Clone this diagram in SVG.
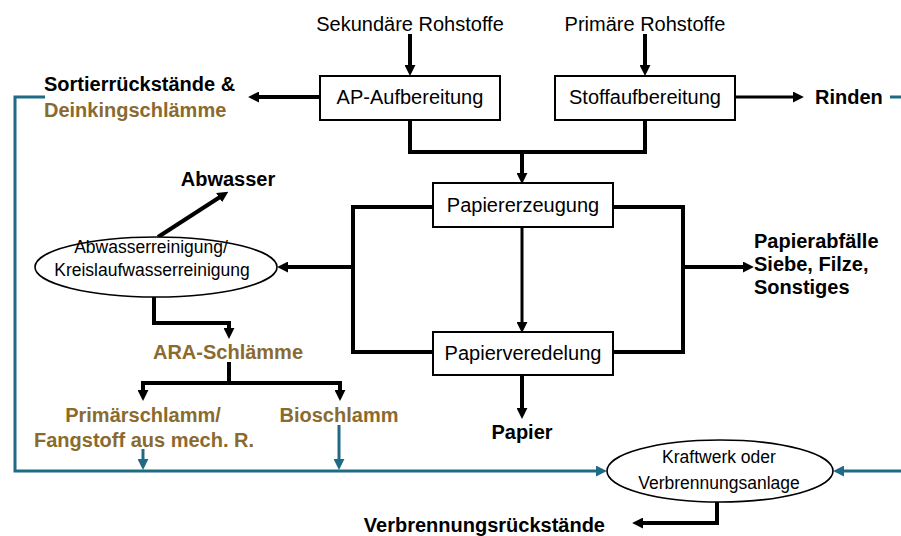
<svg xmlns="http://www.w3.org/2000/svg" width="901" height="536" viewBox="0 0 901 536">
<style>
text{font-family:"Liberation Sans",Arial,sans-serif;font-size:20px;fill:#000}
.b{font-weight:bold}
.br{fill:#8B6A2E}
.s{font-size:17.5px}
.m{text-anchor:middle}
.box{fill:#fff;stroke:#000;stroke-width:2}
.ell{fill:#fff;stroke:#000;stroke-width:1.6}
.k{fill:none;stroke:#000;stroke-width:4}
.k3{fill:none;stroke:#000;stroke-width:3}
.t{fill:none;stroke:#1F6B85;stroke-width:3}
</style>
<defs>
<marker id="ak" viewBox="0 0 10 10" refX="1" refY="5" markerWidth="11" markerHeight="11" markerUnits="userSpaceOnUse" orient="auto"><path d="M0,0 L10,5 L0,10 z" fill="#000"/></marker>
<marker id="at" viewBox="0 0 10 10" refX="1" refY="5" markerWidth="11" markerHeight="11" markerUnits="userSpaceOnUse" orient="auto"><path d="M0,0 L10,5 L0,10 z" fill="#1F6B85"/></marker>
</defs>

<g id="connectors">
<!-- inputs -->
<line class="k" x1="410" y1="34" x2="410" y2="66" marker-end="url(#ak)"/>
<line class="k" x1="645" y1="34" x2="645" y2="66" marker-end="url(#ak)"/>
<!-- AP -> Sortier -->
<line class="k" x1="320" y1="97" x2="258" y2="97" marker-end="url(#ak)"/>
<!-- Stoff -> Rinden -->
<line class="k3" x1="735" y1="97" x2="794" y2="97" marker-end="url(#ak)"/>
<!-- merge to Papiererzeugung -->
<polyline class="k" points="410,120 410,152 645,152 645,120"/>
<line class="k" x1="522" y1="152" x2="522" y2="174" marker-end="url(#ak)"/>
<!-- Papiererzeugung -> Papierveredelung -->
<line class="k3" x1="522" y1="227" x2="522" y2="323" marker-end="url(#ak)"/>
<!-- Papierveredelung -> Papier -->
<line class="k" x1="522" y1="375" x2="522" y2="409" marker-end="url(#ak)"/>
<!-- left bracket -->
<polyline class="k" points="433,207 353,207 353,352 433,352"/>
<line class="k" x1="353" y1="267" x2="287" y2="267" marker-end="url(#ak)"/>
<!-- right bracket -->
<polyline class="k" points="613,207 683,207 683,352 613,352"/>
<line class="k" x1="683" y1="267" x2="744" y2="267" marker-end="url(#ak)"/>
<!-- Abwasser -->
<line class="k" x1="158" y1="237" x2="220" y2="197" marker-end="url(#ak)"/>
<!-- ARA -->
<polyline class="k" points="154,297 154,323 229,323 229,329" marker-end="url(#ak)"/>
<polyline class="k" points="229,362 229,383"/>
<polyline class="k" points="143,391 143,383 340,383 340,391" marker-end="url(#ak)"/>
<line class="k" x1="143" y1="385" x2="143" y2="391" marker-end="url(#ak)"/>
<!-- teal -->
<line class="t" x1="143" y1="449" x2="143" y2="460" marker-end="url(#at)"/>
<line class="t" x1="339" y1="425" x2="339" y2="460" marker-end="url(#at)"/>
<polyline class="t" points="45,97 15,97 15,471 597,471" marker-end="url(#at)"/>
<line class="t" x1="890" y1="97" x2="901" y2="97"/>
<line class="t" x1="901" y1="471" x2="843" y2="471" marker-end="url(#at)"/>
<!-- Kraftwerk -> Verbrennungsrückstände -->
<polyline class="k" points="717,502 717,523 642,523" marker-end="url(#ak)"/>
</g>

<g id="sekundaer"><text class="m" x="410" y="31">Sekundäre Rohstoffe</text></g>
<g id="primaer"><text class="m" x="645" y="31">Primäre Rohstoffe</text></g>
<g id="ap"><rect class="box" x="320" y="76" width="180" height="44"/><text class="m" x="410" y="104">AP-Aufbereitung</text></g>
<g id="stoff"><rect class="box" x="555" y="76" width="180" height="44"/><text class="m" x="645" y="104">Stoffaufbereitung</text></g>
<g id="sortier"><text class="b" x="44" y="91">Sortierrückstände &amp;</text><text class="b br" x="44" y="117">Deinkingschlämme</text></g>
<g id="rinden"><text class="b" x="815" y="104">Rinden</text></g>
<g id="papiererzeugung"><rect class="box" x="433" y="183" width="180" height="44"/><text class="m" x="523" y="212">Papiererzeugung</text></g>
<g id="papierveredelung"><rect class="box" x="433" y="332" width="180" height="43"/><text class="m" x="523" y="360">Papierveredelung</text></g>
<g id="papier"><text class="b m" x="522" y="439">Papier</text></g>
<g id="papierabfaelle"><text class="b" x="754" y="248">Papierabfälle</text><text class="b" x="754" y="271">Siebe, Filze,</text><text class="b" x="754" y="294">Sonstiges</text></g>
<g id="abwasserreinigung"><ellipse class="ell" cx="156" cy="267" rx="121" ry="30"/><text class="s m" x="151" y="253">Abwasserreinigung/</text><text class="s m" x="152" y="276">Kreislaufwasserreinigung</text></g>
<g id="abwasser"><text class="b m" x="228" y="186">Abwasser</text></g>
<g id="ara"><text class="b br m" x="228" y="359">ARA-Schlämme</text></g>
<g id="primaerschlamm"><text class="b br m" x="143" y="422">Primärschlamm/</text><text class="b br m" x="144" y="447">Fangstoff aus mech. R.</text></g>
<g id="bioschlamm"><text class="b br m" x="339" y="422">Bioschlamm</text></g>
<g id="kraftwerk"><ellipse class="ell" cx="720" cy="471" rx="113" ry="31"/><text class="s m" x="719" y="463">Kraftwerk oder</text><text class="s m" x="719" y="489">Verbrennungsanlage</text></g>
<g id="verbrennungsrueckstaende"><text class="b" x="605" y="532" text-anchor="end">Verbrennungsrückstände</text></g>
</svg>
